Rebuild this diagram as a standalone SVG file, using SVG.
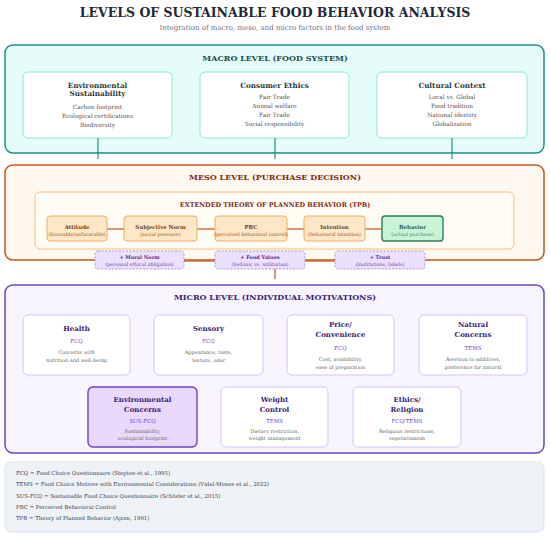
<svg xmlns="http://www.w3.org/2000/svg" width="550" height="536" viewBox="0 0 550 536">
<style>
text{font-family:"DejaVu Serif","Liberation Serif",serif;text-anchor:middle;dominant-baseline:central}
.title{font-size:12.5px;font-weight:bold;fill:#1f2937}
.sub{font-size:7px;fill:#6b7280}
.lvl{font-size:8px;font-weight:bold}
.mct{font-size:7.2px;font-weight:bold;fill:#1f3d3b}
.mci{font-size:5.8px;fill:#555}
.tpbh{font-size:6.4px;font-weight:bold;fill:#7c2d12}
.tb{fill:#fde7c6;stroke:#eba75e;stroke-width:0.9}
.tbl{font-size:5.4px;font-weight:bold;fill:#7c3a12}
.tbs{font-size:4.8px;fill:#9a5a2a}
.db{fill:#ebe0fd;stroke:#a88ade;stroke-width:0.9;stroke-dasharray:2 1.5}
.dbl{font-size:5px;font-weight:bold;fill:#4c2e8a}
.dbs{font-size:4.8px;fill:#6b4aa8}
.mb{fill:#fff;stroke:#d8c2f8;stroke-width:1}
.mt{font-size:7px;font-weight:bold;fill:#3b2372}
.mc{font-size:5.4px;fill:#6b46c1}
.md{font-size:5px;fill:#666}
.lg{font-size:5.4px;fill:#374151;text-anchor:start}
.cm{stroke:#1f8f86;stroke-width:1.2;fill:none}
.co{stroke:#c2571a;stroke-width:1.2;fill:none}
</style>
<text class="title" x="275" y="12">LEVELS OF SUSTAINABLE FOOD BEHAVIOR ANALYSIS</text>
<text class="sub" x="275" y="28">Integration of macro, meso, and micro factors in the food system</text>

<g id="macro">
<rect x="5" y="45" width="539" height="108" rx="8" fill="#e6fcf9" stroke="#1f8f86" stroke-width="1.5"/>
<text class="lvl" x="275" y="58" fill="#1e4d4a">MACRO LEVEL (FOOD SYSTEM)</text>
</g>
<g id="env-sust">
<rect x="23" y="72" width="149" height="66" rx="5" fill="#fff" stroke="#8ee6dc" stroke-width="1"/>
<text class="mct" x="97.5" y="85">Environmental</text>
<text class="mct" x="97.5" y="93.5">Sustainability</text>
<text class="mci" x="97.5" y="107">Carbon footprint</text>
<text class="mci" x="97.5" y="116">Ecological certifications</text>
<text class="mci" x="97.5" y="125">Biodiversity</text>
</g>
<g id="consumer-ethics">
<rect x="200" y="72" width="149" height="66" rx="5" fill="#fff" stroke="#8ee6dc" stroke-width="1"/>
<text class="mct" x="274.5" y="85">Consumer Ethics</text>
<text class="mci" x="274.5" y="97">Fair Trade</text>
<text class="mci" x="274.5" y="106">Animal welfare</text>
<text class="mci" x="274.5" y="115">Fair Trade</text>
<text class="mci" x="274.5" y="124">Social responsibility</text>
</g>
<g id="cultural-context">
<rect x="377" y="72" width="150" height="66" rx="5" fill="#fff" stroke="#8ee6dc" stroke-width="1"/>
<text class="mct" x="452" y="85">Cultural Context</text>
<text class="mci" x="452" y="97">Local vs. Global</text>
<text class="mci" x="452" y="106">Food tradition</text>
<text class="mci" x="452" y="115">National identity</text>
<text class="mci" x="452" y="124">Globalization</text>
</g>

<g id="meso">
<rect x="5" y="165" width="539" height="95" rx="8" fill="#fff8ee" stroke="#c2571a" stroke-width="1.5"/>
<text class="lvl" x="275" y="177" fill="#7c2d12">MESO LEVEL (PURCHASE DECISION)</text>
</g>
<g id="tpb">
<rect x="35" y="192" width="479" height="57" rx="5" fill="#fffbf5" stroke="#f9c07a" stroke-width="1"/>
<text class="tpbh" x="275" y="205">EXTENDED THEORY OF PLANNED BEHAVIOR (TPB)</text>
</g>

<g id="connectors">
<line class="cm" x1="98" y1="138" x2="98" y2="159"/>
<line class="cm" x1="275" y1="138" x2="275" y2="159"/>
<line class="cm" x1="452" y1="138" x2="452" y2="159"/>
<line class="co" x1="107" y1="229" x2="124" y2="229"/>
<line class="co" x1="197" y1="229" x2="215" y2="229"/>
<line class="co" x1="287" y1="229" x2="304" y2="229"/>
<line class="co" x1="365" y1="229" x2="382" y2="229"/>
<line class="co" x1="184" y1="261" x2="215" y2="261"/>
<line class="co" x1="305" y1="261" x2="335" y2="261"/>
<line class="co" x1="275" y1="269" x2="275" y2="279"/>
</g>

<g id="attitude">
<rect class="tb" x="47" y="216" width="60" height="25" rx="3"/>
<text class="tbl" x="77" y="226.5">Attitude</text>
<text class="tbs" x="77" y="234.5">(favorable/unfavorable)</text>
</g>
<g id="subjective-norm">
<rect class="tb" x="124" y="216" width="73" height="25" rx="3"/>
<text class="tbl" x="160.5" y="226.5">Subjective Norm</text>
<text class="tbs" x="160.5" y="234.5">(social pressure)</text>
</g>
<g id="pbc">
<rect class="tb" x="215" y="216" width="72" height="25" rx="3"/>
<text class="tbl" x="251" y="226.5">PBC</text>
<text class="tbs" x="251" y="234.5">(perceived behavioral control)</text>
</g>
<g id="intention">
<rect class="tb" x="304" y="216" width="61" height="25" rx="3"/>
<text class="tbl" x="334.5" y="226.5">Intention</text>
<text class="tbs" x="334.5" y="234.5">(behavioral intention)</text>
</g>
<g id="behavior">
<rect x="382" y="216" width="61" height="25" rx="3" fill="#c9f3d5" stroke="#2f7d55" stroke-width="1.4"/>
<text class="tbl" x="412.5" y="226.5" style="fill:#2f5d45">Behavior</text>
<text class="tbs" x="412.5" y="234.5" style="fill:#4a8a66">(actual purchase)</text>
</g>

<g id="moral-norm">
<rect class="db" x="95" y="251" width="89" height="18" rx="3"/>
<text class="dbl" x="139.5" y="256.5">+ Moral Norm</text>
<text class="dbs" x="139.5" y="264">(personal ethical obligation)</text>
</g>
<g id="food-values">
<rect class="db" x="215" y="251" width="90" height="18" rx="3"/>
<text class="dbl" x="260" y="256.5">+ Food Values</text>
<text class="dbs" x="260" y="264">(hedonic vs. utilitarian)</text>
</g>
<g id="trust">
<rect class="db" x="335" y="251" width="90" height="18" rx="3"/>
<text class="dbl" x="380" y="256.5">+ Trust</text>
<text class="dbs" x="380" y="264">(institutions, labels)</text>
</g>

<g id="micro">
<rect x="5" y="285" width="539" height="168" rx="8" fill="#f9f5fe" stroke="#6b46c1" stroke-width="1.5"/>
<text class="lvl" x="275" y="297" fill="#3b2372">MICRO LEVEL (INDIVIDUAL MOTIVATIONS)</text>
</g>
<g id="health">
<rect class="mb" x="23" y="315" width="107" height="60" rx="5"/>
<text class="mt" x="76.5" y="328">Health</text>
<text class="mc" x="76.5" y="341">FCQ</text>
<text class="md" x="76.5" y="352">Concerns with</text>
<text class="md" x="76.5" y="360">nutrition and well-being</text>
</g>
<g id="sensory">
<rect class="mb" x="154" y="315" width="109" height="60" rx="5"/>
<text class="mt" x="208.5" y="328">Sensory</text>
<text class="mc" x="208.5" y="341">FCQ</text>
<text class="md" x="208.5" y="352">Appearance, taste,</text>
<text class="md" x="208.5" y="360">texture, odor</text>
</g>
<g id="price">
<rect class="mb" x="287" y="315" width="107" height="60" rx="5"/>
<text class="mt" x="340.5" y="324">Price/</text>
<text class="mt" x="340.5" y="334">Convenience</text>
<text class="mc" x="340.5" y="348">FCQ</text>
<text class="md" x="340.5" y="359">Cost, availability,</text>
<text class="md" x="340.5" y="367">ease of preparation</text>
</g>
<g id="natural">
<rect class="mb" x="419" y="315" width="108" height="60" rx="5"/>
<text class="mt" x="473" y="324">Natural</text>
<text class="mt" x="473" y="334">Concerns</text>
<text class="mc" x="473" y="348">TEMS</text>
<text class="md" x="473" y="359">Aversion to additives,</text>
<text class="md" x="473" y="367">preference for natural</text>
</g>
<g id="env-concerns">
<rect x="88" y="387" width="109" height="60" rx="5" fill="#e9d9fd" stroke="#6b46c1" stroke-width="1.4"/>
<text class="mt" x="142.5" y="399">Environmental</text>
<text class="mt" x="142.5" y="409">Concerns</text>
<text class="mc" x="142.5" y="421">SUS-FCQ</text>
<text class="md" x="142.5" y="431">Sustainability,</text>
<text class="md" x="142.5" y="438">ecological footprint</text>
</g>
<g id="weight-control">
<rect class="mb" x="221" y="387" width="107" height="60" rx="5"/>
<text class="mt" x="274.5" y="399">Weight</text>
<text class="mt" x="274.5" y="409">Control</text>
<text class="mc" x="274.5" y="421">TEMS</text>
<text class="md" x="274.5" y="431">Dietary restriction,</text>
<text class="md" x="274.5" y="438">weight management</text>
</g>
<g id="ethics-religion">
<rect class="mb" x="353" y="387" width="108" height="60" rx="5"/>
<text class="mt" x="407" y="399">Ethics/</text>
<text class="mt" x="407" y="409">Religion</text>
<text class="mc" x="407" y="421">FCQ/TEMS</text>
<text class="md" x="407" y="431">Religious restrictions,</text>
<text class="md" x="407" y="438">vegetarianism</text>
</g>

<g id="legend">
<rect x="5" y="462" width="539" height="70" rx="6" fill="#eef2f7" stroke="#dde3ea" stroke-width="1"/>
<text class="lg" x="16" y="473">FCQ = Food Choice Questionnaire (Steptoe et al., 1995)</text>
<text class="lg" x="16" y="484">TEMS = Food Choice Motives with Environmental Considerations (Vidal-Mones et al., 2022)</text>
<text class="lg" x="16" y="495.5">SUS-FCQ = Sustainable Food Choice Questionnaire (Schösler et al., 2015)</text>
<text class="lg" x="16" y="507">PBC = Perceived Behavioral Control</text>
<text class="lg" x="16" y="518">TPB = Theory of Planned Behavior (Ajzen, 1991)</text>
</g>
</svg>
